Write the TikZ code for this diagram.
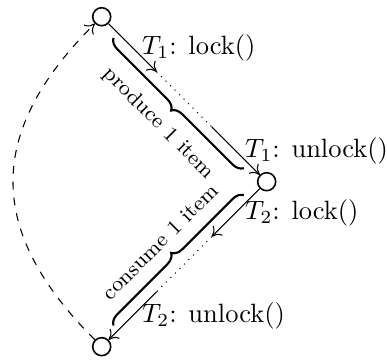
\documentclass[tikz,border=0pt]{standalone}
\usepackage{amsmath}
\usetikzlibrary{calc,arrows.meta,decorations.pathreplacing}

\tikzset{
  >={To[length=3.4pt, width=5.2pt]},
  state/.style={draw, semithick, circle, minimum size=6.8pt, inner sep=0pt},
  lockarrow/.style={->},
  itembrace/.style={thick, decorate, decoration={brace, amplitude=4pt}},
  itembracemirror/.style={thick, decorate, decoration={brace, mirror, amplitude=4pt}},
}

\begin{document}
\begin{tikzpicture}
  \useasboundingbox (-1.350,-4.596) rectangle (3.787,0.222);

  % States
  \node[state] (top) at (0,0) {};
  \node[state] (mid) at (2.190,-2.190) {};
  \node[state] (bot) at (0,-4.380) {};

  % Thirds along both edges
  \coordinate (a1) at ($(top)!1/3!(mid)$);
  \coordinate (a2) at ($(top)!2/3!(mid)$);
  \coordinate (b1) at ($(mid)!1/3!(bot)$);
  \coordinate (b2) at ($(mid)!2/3!(bot)$);

  % Thread 1
  \draw[lockarrow] (top) -- (a1) node[midway, right] {$T_1$: lock()};
  \draw[dotted] (a1) -- (a2);
  \draw[lockarrow] (a2) -- (mid) node[midway, right] {$T_1$: unlock()};

  % Thread 2
  \draw[lockarrow] (mid) -- (b1) node[midway, right] {$T_2$: lock()};
  \draw[dotted] (b1) -- (b2);
  \draw[lockarrow] (b2) -- (bot) node[midway, right] {$T_2$: unlock()};

  % Braces
  \draw[itembracemirror] ($(top)!0.1!(mid)+(-135:2.5pt)$) -- ($(top)!0.89!(mid)+(-135:2.5pt)$)
    node[midway, sloped, below=3.5pt] {\footnotesize produce 1 item};
  \draw[itembrace] ($(bot)!0.1!(mid)+(135:2.5pt)$) -- ($(bot)!0.89!(mid)+(135:2.5pt)$)
    node[midway, sloped, above=3.5pt] {\footnotesize consume 1 item};

  % Back to start
  \draw[->, dashed] (bot) to[out=135, in=-135, looseness=1.25] (top);
\end{tikzpicture}
\end{document}
